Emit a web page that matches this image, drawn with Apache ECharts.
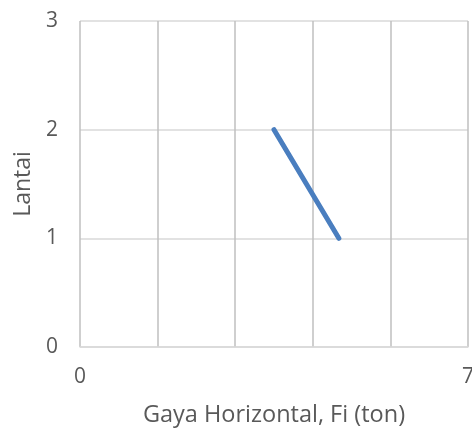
<!DOCTYPE html>
<html>
<head>
<meta charset="utf-8">
<script src="https://cdn.jsdelivr.net/npm/echarts@6/dist/echarts.min.js"></script>
<style>
html,body{margin:0;padding:0;background:#fff;}
#chart{width:472px;height:430px;}
</style>
</head>
<body>
<div id="chart"></div>
<script>
var forceValues = [4.67, 3.5];
var floorValues = [1, 2];
var xAxisTitle = 'Gaya Horizontal, Fi (ton)';
var yAxisTitle = 'Lantai';
var xShownLabels = [0, 7];

var chart = echarts.init(document.getElementById('chart'), null, {renderer: 'canvas'});
var pts = forceValues.map(function (v, i) { return [v, floorValues[i]]; });
var font = '"Open Sans", sans-serif';
chart.setOption({
  animation: false,
  grid: {left: 80, right: 4, top: 21, bottom: 83, containLabel: false, outerBoundsMode: 'none'},
  xAxis: {
    type: 'value', min: 0, max: 7, interval: 1.4,
    name: xAxisTitle, nameLocation: 'middle', nameGap: 56,
    nameTextStyle: {fontFamily: font, fontSize: 23.5, color: '#595959'},
    axisLine: {show: true, lineStyle: {color: '#d9d9d9', width: 1.5}},
    axisTick: {show: false},
    axisLabel: {
      fontFamily: font, fontSize: 21, color: '#595959', margin: 20,
      showMinLabel: true, showMaxLabel: true,
      formatter: function (v) {
        for (var i = 0; i < xShownLabels.length; i++) {
          if (Math.abs(v - xShownLabels[i]) < 1e-6) return String(xShownLabels[i]);
        }
        return '';
      }
    },
    splitLine: {show: true, lineStyle: {color: '#bfbfbf', width: 1.5}}
  },
  yAxis: {
    type: 'value', min: 0, max: 3, interval: 1,
    name: yAxisTitle, nameLocation: 'middle', nameGap: 42,
    nameTextStyle: {fontFamily: font, fontSize: 23, color: '#595959'},
    axisLine: {show: false},
    axisTick: {show: false},
    axisLabel: {fontFamily: font, fontSize: 21, color: '#595959', margin: 22},
    splitLine: {show: true, lineStyle: {color: '#d9d9d9', width: 1.5}}
  },
  series: [{
    type: 'line',
    data: pts,
    showSymbol: false,
    symbol: 'none',
    lineStyle: {color: '#4a7ebf', width: 5, cap: 'round', join: 'round'},
    itemStyle: {color: '#4a7ebf'}
  }]
});
</script>
</body>
</html>
